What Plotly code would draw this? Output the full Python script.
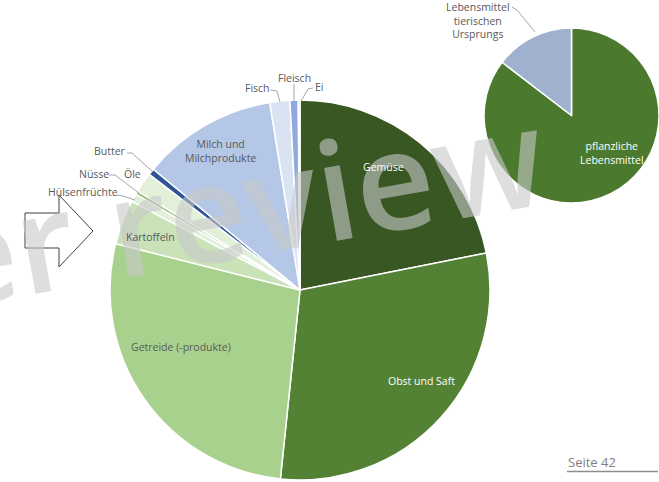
import plotly.graph_objects as go

W, H = 659, 482

# ---- data ----
categories = ["Gemüse", "Obst und Saft", "Getreide (-produkte)", "Kartoffeln",
              "Hülsenfrüchte", "Nüsse", "Öle", "Butter",
              "Milch und Milchprodukte", "Fisch", "Fleisch", "Ei"]
shares = [21.9, 29.8, 27.3, 3.8, 0.7, 0.3, 1.7, 0.55, 11.5, 1.7, 0.7, 0.15]
origin = ["p", "p", "p", "p", "p", "p", "p", "t", "t", "t", "t", "t"]

group_labels = ["pflanzliche Lebensmittel", "Lebensmittel tierischen Ursprungs"]
group_values = [sum(v for v, o in zip(shares, origin) if o == "p"),
                sum(v for v, o in zip(shares, origin) if o == "t")]

# ---- styles ----
slice_colors = ["#385723", "#548235", "#a9d18e", "#c9e2b8", "#e2efda", "#8fbf6c",
                "#e2f0d9", "#2f5597", "#b4c7e7", "#dae3f3", "#8faadc", "#dae3f3"]
group_colors = ["#4b7a2e", "#9fb1cf"]


def px(x, y):
    return x / W, 1 - y / H


fig = go.Figure()

# big pie: centre (300,290), r=190
fig.add_trace(go.Pie(
    labels=categories, values=shares, sort=False, direction="clockwise", rotation=0,
    marker=dict(colors=slice_colors, line=dict(color="white", width=1.5)),
    textinfo="none", hoverinfo="label+percent", showlegend=False,
    domain=dict(x=[110 / W, 490 / W], y=[1 - 480 / H, 1 - 100 / H]),
))

# small pie
fig.add_trace(go.Pie(
    labels=group_labels, values=group_values, sort=False, direction="clockwise", rotation=0,
    marker=dict(colors=group_colors, line=dict(color="white", width=1.5)),
    textinfo="none", hoverinfo="label+percent", showlegend=False,
    domain=dict(x=[484 / W, 659 / W], y=[1 - 203 / H, 1 - 28 / H]),
))

annotations = []
# watermark
wx, wy = px(240, 204)
annotations.append(dict(text="er review", x=wx, y=wy, xref="paper", yref="paper",
                        xanchor="center", yanchor="middle",
                        showarrow=False, textangle=-10,
                        font=dict(family="Open Sans", size=137, weight=600,
                                  color="rgba(200,200,200,0.6)")))

grey = "#595959"
labels_pos = [
    ("Gemüse", 383, 167, "white"),
    ("Obst und Saft", 421, 381, "white"),
    ("Getreide (-produkte)", 181, 347, grey),
    ("Kartoffeln", 150, 237, grey),
    ("Milch und<br>Milchprodukte", 220, 151, grey),
    ("Butter", 110, 151, grey),
    ("Öle", 132, 174, grey),
    ("Nüsse", 94, 174, grey),
    ("Hülsenfrüchte", 83, 192, grey),
    ("Fisch", 257, 88, grey),
    ("Fleisch", 294, 78, grey),
    ("Ei", 319, 87, grey),
    ("pflanzliche<br>Lebensmittel", 612, 153, "white"),
    ("Lebensmittel<br>tierischen<br>Ursprungs", 478, 21, grey),
    ("Seite 42", 592, 462, "#7f7f7f"),
]
for t, x, y, c in labels_pos:
    ax, ay = px(x, y)
    size = 13 if t == "Seite 42" else 10.5
    annotations.append(dict(text=t, x=ax, y=ay, xref="paper", yref="paper",
                            xanchor="center", yanchor="middle",
                            showarrow=False, align="center",
                            font=dict(family="Open Sans", size=size, color=c)))

fig.update_layout(annotations=annotations)

# leader lines
leaders = [
    [(127, 153), (132, 153), (153, 172)],
    [(109, 175), (115, 175), (139, 193)],
    [(117, 195), (123, 196), (135, 200)],
    [(270, 90), (277, 91), (280, 102)],
    [(294, 84), (294, 101)],
    [(313, 88), (308, 89), (301, 101)],
    [(512, 7), (517, 10), (535, 32)],
]
shapes = []
for pts in leaders:
    p = " ".join(("M" if i == 0 else "L") + f"{x / W},{1 - y / H}" for i, (x, y) in enumerate(pts))
    shapes.append(dict(type="path", xref="paper", yref="paper", path=p,
                       line=dict(color="#a6a6a6", width=1)))

# block arrow
arrow = [(25, 213), (59, 213), (59, 195), (93, 231), (59, 267), (59, 248), (25, 248)]
p = " ".join(("M" if i == 0 else "L") + f"{x / W},{1 - y / H}" for i, (x, y) in enumerate(arrow)) + " Z"
shapes.append(dict(type="path", xref="paper", yref="paper", path=p,
                   line=dict(color="#404040", width=1), fillcolor="rgba(0,0,0,0)"))
# page line
shapes.append(dict(type="line", xref="paper", yref="paper",
                   x0=567 / W, x1=658 / W, y0=1 - 471.5 / H, y1=1 - 471.5 / H,
                   line=dict(color="#8c8c8c", width=1.5)))

fig.update_layout(shapes=shapes, width=W, height=H,
                  margin=dict(l=0, r=0, t=0, b=0),
                  paper_bgcolor="white", plot_bgcolor="white")

fig.write_html("out.html", config={"displayModeBar": False},
               post_script="document.body.style.margin='0';document.body.style.overflow='hidden';")
